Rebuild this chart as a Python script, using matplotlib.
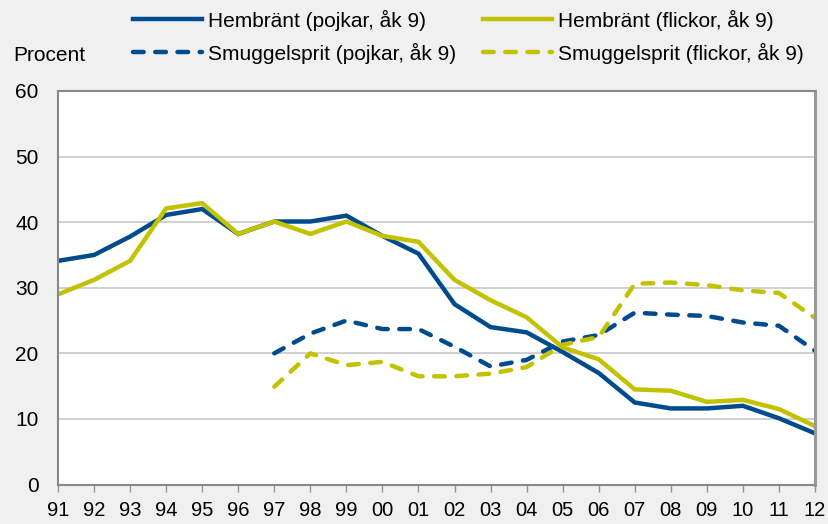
import numpy as np
import matplotlib.pyplot as plt

plt.rcParams['font.family'] = ['Liberation Sans', 'DejaVu Sans']

# ====== data ======
years = ['91', '92', '93', '94', '95', '96', '97', '98', '99', '00', '01',
         '02', '03', '04', '05', '06', '07', '08', '09', '10', '11', '12']

hem_pojkar = [34.1, 35.0, 37.8, 41.1, 42.0, 38.2, 40.1, 40.1, 41.0, 37.9, 35.2,
              27.5, 24.0, 23.2, 20.2, 17.0, 12.5, 11.6, 11.6, 12.0, 10.1, 7.8]
hem_flickor = [29.0, 31.2, 34.1, 42.1, 42.9, 38.2, 40.1, 38.2, 40.1, 37.9, 37.0,
               31.2, 28.1, 25.5, 20.9, 19.1, 14.5, 14.3, 12.6, 12.9, 11.5, 8.9]
smu_pojkar = [None] * 6 + [20.0, 23.0, 25.0, 23.7, 23.7,
                           21.0, 18.0, 19.0, 21.8, 22.8, 26.2, 25.9, 25.7, 24.7, 24.2, 20.4]
smu_flickor = [None] * 6 + [14.9, 20.0, 18.2, 18.7, 16.5,
                            16.5, 16.9, 17.9, 21.3, 22.5, 30.6, 30.8, 30.4, 29.6, 29.2, 25.4]

blue = '#004B8D'
yellow = '#C2C200'
bg = '#F0F0F0'
fs = 15


def arr(v):
    return np.array([np.nan if x is None else x for x in v], dtype=float)


x = np.arange(len(years))

fig = plt.figure(figsize=(8.29, 5.24), dpi=100, facecolor=bg)
ax = fig.add_axes([58 / 829, 1 - 484.5 / 524, 757 / 829, 393.5 / 524])
ax.set_facecolor('white')

lw = 3.2
dash = (2.4, 2.6)
l1, = ax.plot(x, arr(hem_pojkar), color=blue, lw=lw, solid_joinstyle='miter')
l2, = ax.plot(x, arr(hem_flickor), color=yellow, lw=lw, solid_joinstyle='miter')
l3, = ax.plot(x, arr(smu_pojkar), color=blue, lw=lw, dashes=dash,
              dash_capstyle='round')
l4, = ax.plot(x, arr(smu_flickor), color=yellow, lw=lw, dashes=dash,
              dash_capstyle='round')

ax.set_xlim(0, len(years) - 1)
ax.set_ylim(0, 60)
ax.set_yticks(range(0, 61, 10))
ax.set_xticks(x)
ax.set_xticklabels(years)
ax.tick_params(axis='x', length=5, width=1, color='#909090', pad=7, labelsize=14.5)
ax.tick_params(axis='y', length=0, pad=14, labelsize=fs)
ax.yaxis.grid(True, color='#C8C8C8', lw=1.2)
ax.set_axisbelow(True)
for s in ax.spines.values():
    s.set_color('#888888')
    s.set_linewidth(1.5)
ax.spines['right'].set_linewidth(2.2)
ax.spines['right'].set_color('#999999')

fig.text(13 / 829, 1 - 55.5 / 524, 'Procent', fontsize=fs, va='center', ha='left')

# two legends, one per column
leg_kw = dict(loc='upper left', frameon=False, handlelength=3.3,
              handletextpad=0.28, labelspacing=0.58, borderpad=0, borderaxespad=0,
              fontsize=fs)
leg1 = fig.legend([l1, l3], ['Hembränt (pojkar, åk 9)', 'Smuggelsprit (pojkar, åk 9)'],
                  bbox_to_anchor=(133 / 829, 1 - 9.5 / 524), **leg_kw)
leg2 = fig.legend([l2, l4], ['Hembränt (flickor, åk 9)', 'Smuggelsprit (flickor, åk 9)'],
                  bbox_to_anchor=(483 / 829, 1 - 9.5 / 524), **leg_kw)

fig.savefig('out.png', dpi=100, facecolor=bg)
